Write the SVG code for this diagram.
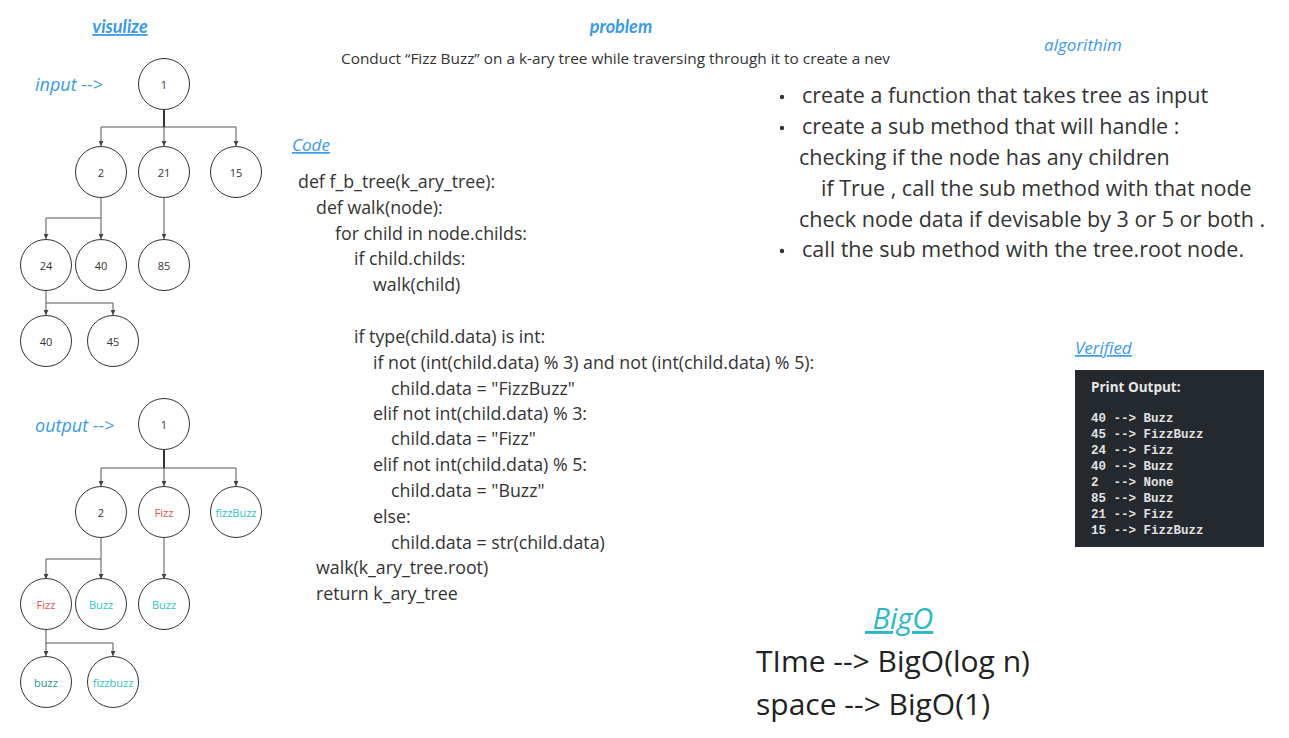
<svg xmlns="http://www.w3.org/2000/svg" width="1289" height="738" viewBox="0 0 1289 738">
<style>
.bg{fill:#ffffff}
.node circle{fill:#ffffff;stroke:#333333;stroke-width:1}
.node text{font-family:"Open Sans","Liberation Sans",sans-serif;font-size:11px;fill:#333333;text-anchor:middle;dominant-baseline:central}
.conn path{fill:none;stroke:#555555;stroke-width:1}
.conn path.thick{stroke-width:2;stroke:#333333}
.hand{font-family:"Lato","Open Sans",sans-serif;font-style:italic;font-weight:bold;fill:#3b9ae6;text-anchor:middle}
.lbl{font-family:"Open Sans","Liberation Sans",sans-serif;font-style:italic;fill:#3b9ae6}
.code{font-family:"Open Sans","Liberation Sans",sans-serif;font-size:17.8px;fill:#333333}
.algo{font-family:"Open Sans","Liberation Sans",sans-serif;font-size:21.5px;fill:#333333}
.mono{font-family:"Liberation Mono","DejaVu Sans Mono",monospace;font-size:12.5px;fill:#e2e2e2;font-weight:bold}
.big{font-family:"Open Sans","Liberation Sans",sans-serif;font-size:30px;fill:#222222}
.fizz{fill:#e0504e !important}
.buzz{fill:#2cc2cc !important}
.buzzd{fill:#17998c !important}
</style>
<defs>
<marker id="ah" viewBox="0 0 8 8" refX="8" refY="4" markerWidth="5" markerHeight="5" orient="auto" markerUnits="userSpaceOnUse">
<path d="M0,0 L8,4 L0,8 z" fill="#444444"/>
</marker>
</defs>
<rect class="bg" x="0" y="0" width="1289" height="738"/>

<text class="hand" x="120" y="33" font-size="18" text-decoration="underline">visulize</text>
<text class="hand" x="621" y="33" font-size="18">problem</text>
<text class="lbl" x="1083" y="51" font-size="17" text-anchor="middle">algorithim</text>
<text class="lbl" x="35" y="91" font-size="18">input --&gt;</text>
<text class="lbl" x="35" y="432" font-size="18">output --&gt;</text>
<text class="lbl" x="292" y="151" font-size="17" text-decoration="underline">Code</text>
<text class="lbl" x="1075" y="354" font-size="17" text-decoration="underline">Verified</text>

<text x="341" y="64" font-family="Open Sans, Liberation Sans, sans-serif" font-size="14.8" fill="#333333" textLength="549" lengthAdjust="spacingAndGlyphs">Conduct “Fizz Buzz” on a k-ary tree while traversing through it to create a nev</text>

<g id="connectors" class="conn">
<path class="thick" d="M164,109 V127"/>
<path d="M101,127 H236"/>
<path d="M101,127 V146" marker-end="url(#ah)"/>
<path d="M164,127 V146" marker-end="url(#ah)"/>
<path d="M236,127 V146" marker-end="url(#ah)"/>
<path d="M101,198 V218 H46"/>
<path d="M46,218 V239" marker-end="url(#ah)"/>
<path d="M101,218 V239" marker-end="url(#ah)"/>
<path d="M164,198 V239" marker-end="url(#ah)"/>
<path d="M46,291 V303 H113"/>
<path d="M46,303 V315" marker-end="url(#ah)"/>
<path d="M113,303 V315" marker-end="url(#ah)"/>

<path class="thick" d="M164,450 V468"/>
<path d="M101,468 H236"/>
<path d="M101,468 V486" marker-end="url(#ah)"/>
<path d="M164,468 V486" marker-end="url(#ah)"/>
<path d="M236,468 V486" marker-end="url(#ah)"/>
<path d="M101,538 V559 H46"/>
<path d="M46,559 V579" marker-end="url(#ah)"/>
<path d="M101,559 V579" marker-end="url(#ah)"/>
<path d="M164,538 V579" marker-end="url(#ah)"/>
<path d="M46,630 V643 H113"/>
<path d="M46,643 V656" marker-end="url(#ah)"/>
<path d="M113,643 V656" marker-end="url(#ah)"/>
</g>

<g id="in-1" class="node"><circle cx="164" cy="84" r="25.5"/><text x="164" y="84">1</text></g>
<g id="in-2" class="node"><circle cx="101" cy="172" r="25.5"/><text x="101" y="172">2</text></g>
<g id="in-21" class="node"><circle cx="164" cy="172" r="25.5"/><text x="164" y="172">21</text></g>
<g id="in-15" class="node"><circle cx="236" cy="172" r="25.5"/><text x="236" y="172">15</text></g>
<g id="in-24" class="node"><circle cx="46" cy="265" r="25.5"/><text x="46" y="265">24</text></g>
<g id="in-40a" class="node"><circle cx="101" cy="265" r="25.5"/><text x="101" y="265">40</text></g>
<g id="in-85" class="node"><circle cx="164" cy="265" r="25.5"/><text x="164" y="265">85</text></g>
<g id="in-40b" class="node"><circle cx="46" cy="341" r="25.5"/><text x="46" y="341">40</text></g>
<g id="in-45" class="node"><circle cx="113" cy="341" r="25.5"/><text x="113" y="341">45</text></g>

<g id="out-1" class="node"><circle cx="164" cy="424" r="25.5"/><text x="164" y="424">1</text></g>
<g id="out-2" class="node"><circle cx="101" cy="512" r="25.5"/><text x="101" y="512">2</text></g>
<g id="out-fizz" class="node"><circle cx="164" cy="512" r="25.5"/><text class="fizz" x="164" y="512">Fizz</text></g>
<g id="out-fizzBuzz" class="node"><circle cx="236" cy="512" r="25.5"/><text class="buzz" x="236" y="512" font-size="10">fizzBuzz</text></g>
<g id="out-fizz2" class="node"><circle cx="46" cy="604" r="25.5"/><text class="fizz" x="46" y="604">Fizz</text></g>
<g id="out-buzz1" class="node"><circle cx="101" cy="604" r="25.5"/><text class="buzz" x="101" y="604">Buzz</text></g>
<g id="out-buzz2" class="node"><circle cx="164" cy="604" r="25.5"/><text class="buzz" x="164" y="604">Buzz</text></g>
<g id="out-buzz3" class="node"><circle cx="46" cy="682" r="25.5"/><text class="buzzd" x="46" y="682">buzz</text></g>
<g id="out-fizzbuzz" class="node"><circle cx="113" cy="682" r="25.5"/><text class="buzz" x="113" y="682" font-size="9.5">fizzbuzz</text></g>

<g id="code">
<text class="code" x="298" y="188">def f_b_tree(k_ary_tree):</text>
<text class="code" x="316" y="214">def walk(node):</text>
<text class="code" x="335" y="240">for child in node.childs:</text>
<text class="code" x="354" y="265">if child.childs:</text>
<text class="code" x="373" y="291">walk(child)</text>
<text class="code" x="354" y="343">if type(child.data) is int:</text>
<text class="code" x="373" y="369">if not (int(child.data) % 3) and not (int(child.data) % 5):</text>
<text class="code" x="391" y="395">child.data = "FizzBuzz"</text>
<text class="code" x="373" y="420">elif not int(child.data) % 3:</text>
<text class="code" x="391" y="445">child.data = "Fizz"</text>
<text class="code" x="373" y="471">elif not int(child.data) % 5:</text>
<text class="code" x="391" y="497">child.data = "Buzz"</text>
<text class="code" x="373" y="523">else:</text>
<text class="code" x="391" y="549">child.data = str(child.data)</text>
<text class="code" x="316" y="574">walk(k_ary_tree.root)</text>
<text class="code" x="316" y="600">return k_ary_tree</text>
</g>

<g id="algorithm">
<circle cx="782" cy="97" r="2.2" fill="#333"/>
<text class="algo" x="802" y="103">create a function that takes tree as input</text>
<circle cx="782" cy="128" r="2.2" fill="#333"/>
<text class="algo" x="802" y="134">create a sub method that will handle :</text>
<text class="algo" x="799" y="165">checking if the node has any children</text>
<text class="algo" x="821" y="196">if True , call the sub method with that node</text>
<text class="algo" x="799" y="227">check node data if devisable by 3 or 5 or both .</text>
<circle cx="782" cy="251" r="2.2" fill="#333"/>
<text class="algo" x="802" y="257">call the sub method with the tree.root node.</text>
</g>

<g id="verified">
<rect x="1075" y="370" width="189" height="177" fill="#24292e"/>
<text x="1091" y="392" font-family="Open Sans, Liberation Sans, sans-serif" font-size="13.5" font-weight="bold" fill="#e8e8e8">Print Output:</text>
<text class="mono" x="1091" y="422">40 --&gt; Buzz</text>
<text class="mono" x="1091" y="438">45 --&gt; FizzBuzz</text>
<text class="mono" x="1091" y="454">24 --&gt; Fizz</text>
<text class="mono" x="1091" y="470">40 --&gt; Buzz</text>
<text class="mono" x="1091" y="486" xml:space="preserve">2  --&gt; None</text>
<text class="mono" x="1091" y="502">85 --&gt; Buzz</text>
<text class="mono" x="1091" y="518">21 --&gt; Fizz</text>
<text class="mono" x="1091" y="534">15 --&gt; FizzBuzz</text>
</g>

<g id="bigo">
<text x="865" y="629" font-family="Open Sans, Liberation Sans, sans-serif" font-size="29" font-style="italic" fill="#2bb8c6" text-decoration="underline" xml:space="preserve"> BigO</text>
<text class="big" x="756" y="672">TIme --&gt; BigO(log n)</text>
<text class="big" x="756" y="715">space --&gt; BigO(1)</text>
</g>
</svg>
